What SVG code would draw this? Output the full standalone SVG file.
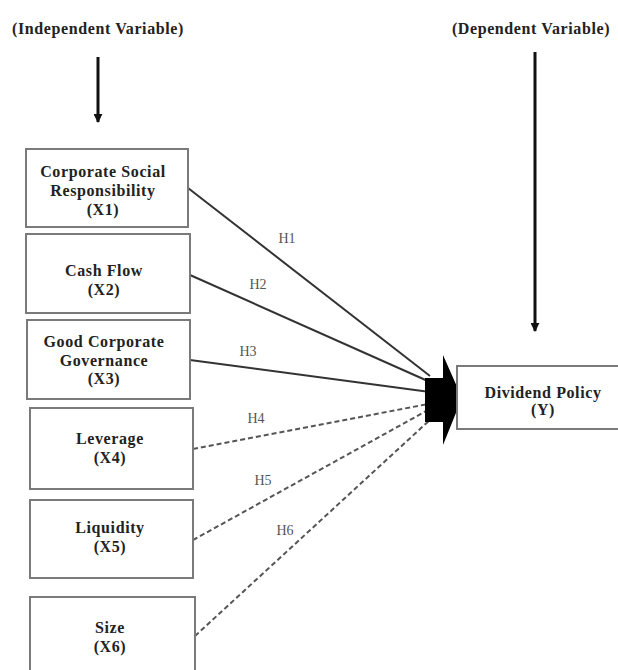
<svg xmlns="http://www.w3.org/2000/svg" width="618" height="670" viewBox="0 0 618 670">
<style>
.box{fill:#fff;stroke:#7a7a7a;stroke-width:2}
.t{font-family:"Liberation Serif","Times New Roman",serif;font-weight:bold;font-size:16px;letter-spacing:0.6px;fill:#222;text-anchor:middle}
.h{font-family:"Liberation Serif","Times New Roman",serif;font-size:14px;fill:#555;text-anchor:middle}
.solid{stroke:#333;stroke-width:2;fill:none}
.dash{stroke:#555;stroke-width:2;fill:none;stroke-dasharray:5 3}
.v{stroke:#111;stroke-width:3;fill:none}
</style>
<defs>
<marker id="ah" viewBox="0 0 10 10" refX="9" refY="5" markerWidth="3" markerHeight="3" orient="auto">
<path d="M0,0 L10,5 L0,10 z" fill="#111"/>
</marker>
</defs>
<rect width="618" height="670" fill="#fff"/>
<g id="title-independent">
<text class="t" x="98" y="34">(Independent Variable)</text>
</g>
<g id="title-dependent">
<text class="t" x="531" y="34">(Dependent Variable)</text>
</g>
<g id="connectors">
<line class="v" x1="98" y1="57" x2="98" y2="122" marker-end="url(#ah)"/>
<line class="v" x1="535" y1="52" x2="535" y2="331" marker-end="url(#ah)"/>
<line class="solid" x1="188" y1="188" x2="430" y2="376"/>
<line class="solid" x1="190" y1="275" x2="430" y2="382"/>
<line class="solid" x1="190" y1="360" x2="430" y2="392"/>
<line class="dash" x1="193" y1="449" x2="428" y2="404"/>
<line class="dash" x1="193" y1="540" x2="428" y2="410"/>
<line class="dash" x1="195" y1="636" x2="432" y2="418"/>
<path d="M425,378 H443 V355 L462,398 L443,445 V422 H425 Z" fill="#000"/>
<text class="h" x="287" y="243">H1</text>
<text class="h" x="258" y="289">H2</text>
<text class="h" x="248" y="356">H3</text>
<text class="h" x="256" y="423">H4</text>
<text class="h" x="263" y="485">H5</text>
<text class="h" x="285" y="535">H6</text>
</g>
<g id="x1">
<rect class="box" x="26" y="149" width="162" height="78"/>
<text class="t" x="103" y="177">Corporate Social</text>
<text class="t" x="103" y="196">Responsibility</text>
<text class="t" x="103" y="215">(X1)</text>
</g>
<g id="x2">
<rect class="box" x="26" y="234" width="164" height="79"/>
<text class="t" x="104" y="276">Cash Flow</text>
<text class="t" x="104" y="295">(X2)</text>
</g>
<g id="x3">
<rect class="box" x="27" y="320" width="163" height="79"/>
<text class="t" x="104" y="347">Good Corporate</text>
<text class="t" x="104" y="366">Governance</text>
<text class="t" x="104" y="384">(X3)</text>
</g>
<g id="x4">
<rect class="box" x="30" y="408" width="163" height="81"/>
<text class="t" x="110" y="444">Leverage</text>
<text class="t" x="110" y="463">(X4)</text>
</g>
<g id="x5">
<rect class="box" x="30" y="500" width="163" height="78"/>
<text class="t" x="110" y="533">Liquidity</text>
<text class="t" x="110" y="552">(X5)</text>
</g>
<g id="x6">
<rect class="box" x="30" y="597" width="165" height="80"/>
<text class="t" x="110" y="633">Size</text>
<text class="t" x="110" y="652">(X6)</text>
</g>
<g id="y">
<rect class="box" x="457" y="366" width="165" height="63"/>
<text class="t" x="543" y="398">Dividend Policy</text>
<text class="t" x="543" y="415">(Y)</text>
</g>
</svg>
